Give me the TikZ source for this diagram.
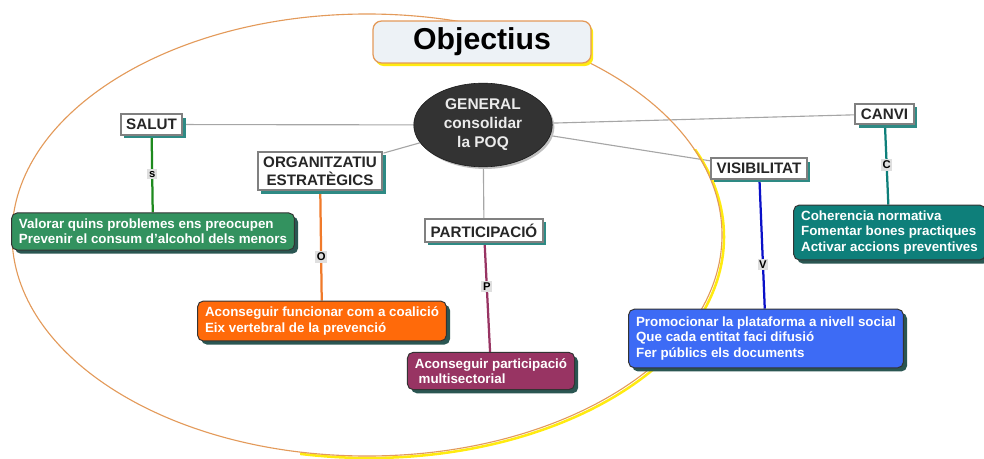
\documentclass[tikz,border=0pt]{standalone}
\usepackage{fontspec}
\setmainfont{Liberation Sans}
\usetikzlibrary{shapes.geometric}
\usetikzlibrary{shadows,backgrounds}
\usepackage{xcolor}
\definecolor{shteal}{HTML}{2E8A84}
\definecolor{boxshade}{HTML}{2A5652}
\definecolor{cgreen}{HTML}{33925F}
\definecolor{corange}{HTML}{FF6A0A}
\definecolor{cpurple}{HTML}{983463}
\definecolor{cblue}{HTML}{3D6BF5}
\definecolor{cteal}{HTML}{0E7F7A}
\definecolor{lgreen}{HTML}{1E8A1E}
\definecolor{lorange}{HTML}{F07A2A}
\definecolor{lblue}{HTML}{0A10C8}
\definecolor{rimorange}{HTML}{E39A5A}
\definecolor{rimyellow}{HTML}{FFEB10}
\definecolor{titlefill}{HTML}{EDF2F6}
\tikzstyle{titlebox}=[draw=rimorange, line width=0.9pt, fill=titlefill, rounded corners=6pt, minimum width=155pt, minimum height=29.8pt, font=\fontsize{21.5}{24}\selectfont\bfseries, general shadow={shadow xshift=1.6pt, shadow yshift=-2.2pt, fill=rimyellow}]
\tikzstyle{central}=[ellipse, fill=black!80, draw=black!90, inner sep=0pt, minimum width=98.5pt, minimum height=59.5pt, align=center, text=white!92!black, font=\fontsize{11}{13.5}\selectfont\bfseries, general shadow={shadow xshift=1.5pt, shadow yshift=-1.5pt, fill=gray!50}]
\tikzstyle{topic}=[draw=gray, line width=1.4pt, fill=white, align=center, inner xsep=4pt, inner ysep=3.4pt, text=black!85, font=\fontsize{10.8}{13}\selectfont\bfseries, general shadow={shadow xshift=2.4pt, shadow yshift=-2.4pt, fill=shteal}]
\tikzstyle{goalbox}=[draw=black!80, line width=0.7pt, rounded corners=4pt, align=left, inner xsep=5.3pt, inner ysep=4.3pt, text=white, font=\fontsize{9.5}{10.8}\selectfont\bfseries, general shadow={shadow xshift=2.6pt, shadow yshift=-2.6pt, fill=boxshade}]
\tikzstyle{spoke}=[gray!70, line width=0.8pt]
\tikzstyle{linklbl}=[fill=gray!25, inner sep=1.2pt, text=black, font=\fontsize{8}{9}\selectfont\bfseries]

\begin{document}
\begin{tikzpicture}[x=0.025cm, y=-0.025cm]
\useasboundingbox (0,0) rectangle (984,459);
\begin{scope}
\clip (300,150) rectangle (984,459);
\draw[rimyellow, line width=1.8pt] (369,237) ellipse [x radius=355, y radius=221];
\end{scope}
\draw[rimorange, line width=0.8pt] (367,235) ellipse [x radius=355, y radius=221];

\node[titlebox] (title) at (482,42) {Objectius};
\node[central] (general) at (483,125) {GENERAL\\consolidar\\la POQ};

\node[topic] (salut) at (151.5,124.5) {SALUT};
\node[topic] (organ) at (320,171) {ORGANITZATIU\\ESTRATÈGICS};
\node[topic] (partic) at (484,230.5) {PARTICIPACIÓ};
\node[topic] (visib) at (759,168.5) {VISIBILITAT};
\node[topic] (canvi) at (884.5,114) {CANVI};

\node[goalbox, fill=cgreen] (valorar) at (153,231.5) {Valorar quins problemes ens preocupen\\Prevenir el consum d’alcohol dels menors};
\node[goalbox, fill=corange] (coalicio) at (322,321) {Aconseguir funcionar com a coalició\\Eix vertebral de la prevenció};
\node[goalbox, fill=cpurple] (multisec) at (491,371) {Aconseguir participació\\\ multisectorial};
\node[goalbox, fill=cblue, inner ysep=5.6pt] (plataforma) at (766,338.5) {Promocionar la plataforma a nivell social\\Que cada entitat faci difusió\\Fer públics els documents};
\node[goalbox, fill=cteal] (normativa) at (889.5,232.5) {Coherencia normativa\\Fomentar bones practiques\\Activar accions preventives};

\begin{scope}[on background layer]
\foreach \t in {salut,organ,partic,visib,canvi}
	\draw[spoke] (general) -- (\t);
\draw[lgreen, line width=1.6pt] (salut) -- node[linklbl, pos=0.5] {s} (valorar);
\draw[lorange, line width=1.6pt] (organ) -- node[linklbl, pos=0.6] {O} (coalicio);
\draw[cpurple, line width=1.6pt] (partic) -- node[linklbl, pos=0.4] {P} (multisec);
\draw[lblue, line width=1.6pt] (visib) -- node[linklbl, pos=0.66] {V} (plataforma);
\draw[cteal, line width=1.6pt] (canvi) -- node[linklbl, pos=0.5] {C} (normativa);
\end{scope}
\end{tikzpicture}
\end{document}
